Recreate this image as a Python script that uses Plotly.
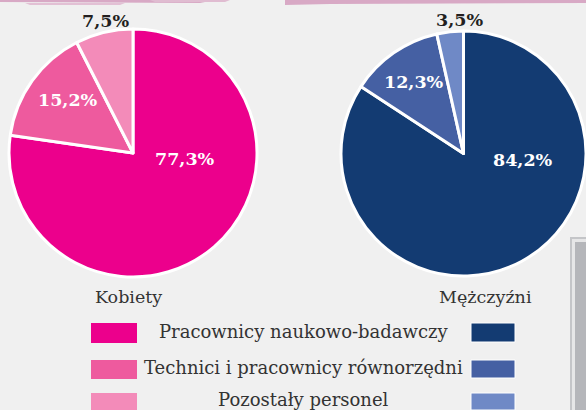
import plotly.graph_objects as go

W, H = 586, 410

categories = ["Pracownicy naukowo-badawczy", "Technici i pracownicy równorzędni", "Pozostały personel"]
groups = ["Kobiety", "Mężczyźni"]
women_values = [77.3, 15.2, 7.5]
men_values = [84.2, 12.3, 3.5]
women_labels = ["77,3%", "15,2%", "7,5%"]
men_labels = ["84,2%", "12,3%", "3,5%"]
women_colors = ["#EC008C", "#EE5A9E", "#F38BB9"]
men_colors = ["#133B72", "#4560A3", "#6F89C6"]

BG = "#F0F0F0"
TXT = "#333333"
SERIF = "DejaVu Serif"


def px(x):
    return x / W


def py(y):
    return 1 - y / H


fig = go.Figure()

fig.add_trace(go.Pie(
    values=women_values, labels=categories, sort=False, direction="clockwise", rotation=0,
    marker=dict(colors=women_colors, line=dict(color="white", width=3)),
    textinfo="none", hoverinfo="skip", showlegend=False,
    domain=dict(x=[px(9), px(257)], y=[py(277), py(29)]),
))
fig.add_trace(go.Pie(
    values=men_values, labels=categories, sort=False, direction="clockwise", rotation=0,
    marker=dict(colors=men_colors, line=dict(color="white", width=3)),
    textinfo="none", hoverinfo="skip", showlegend=False,
    domain=dict(x=[px(341), 1.0], y=[py(277), py(30)]),
))

annotations = []
# percentage labels (text from data arrays)
label_pos_w = [(184.5, 159, "white"), (67.5, 100, "white"), (105, 21, "#231F20")]
label_pos_m = [(523, 159.5, "white"), (413.5, 82, "white"), (459, 20, "#231F20")]
for labels, poss in ((women_labels, label_pos_w), (men_labels, label_pos_m)):
    for t, (x, y, c) in zip(labels, poss):
        annotations.append(dict(
            x=px(x), y=py(y), xref="paper", yref="paper", text="<b>" + t + "</b>",
            showarrow=False, xanchor="center", yanchor="middle",
            font=dict(family=SERIF, size=17.5, color=c),
        ))

# group titles
for g, x in zip(groups, [128, 485]):
    annotations.append(dict(
        x=px(x), y=py(297), xref="paper", yref="paper", text=g, showarrow=False,
        xanchor="center", yanchor="middle", font=dict(family=SERIF, size=17.5, color=TXT),
    ))

# custom legend
shapes = []
rows = [(323, 343, 331), (360, 379, 367), (393, 411, 399)]
for i, cat in enumerate(categories):
    y0, y1, yc = rows[i]
    shapes.append(dict(type="rect", xref="paper", yref="paper",
                       x0=px(91), x1=px(137), y0=py(y1), y1=py(y0),
                       fillcolor=women_colors[i], line=dict(width=0)))
    shapes.append(dict(type="rect", xref="paper", yref="paper",
                       x0=px(471), x1=px(515), y0=py(y1 - 1), y1=py(y0),
                       fillcolor=men_colors[i], line=dict(color="white", width=1)))
    annotations.append(dict(
        x=px(304), y=py(yc), xref="paper", yref="paper", text=cat, showarrow=False,
        xanchor="center", yanchor="middle", font=dict(family=SERIF, size=18, color=TXT),
    ))

# decorative top brush strokes
shapes.append(dict(type="path", xref="paper", yref="paper",
                   path=f"M {px(0)},{py(0)} L {px(215)},{py(0)} L {px(200)},{py(3)} L {px(0)},{py(2)} Z",
                   fillcolor="#D8A9C5", line=dict(width=0)))
shapes.append(dict(type="path", xref="paper", yref="paper",
                   path=f"M {px(25)},{py(3)} L {px(125)},{py(3)} L {px(120)},{py(5)} L {px(30)},{py(5)} Z",
                   fillcolor="#E2C0D4", line=dict(width=0)))
shapes.append(dict(type="path", xref="paper", yref="paper",
                   path=f"M {px(150)},{py(0)} L {px(230)},{py(0)} L {px(225)},{py(2)} L {px(155)},{py(2)} Z",
                   fillcolor="#E0BCD1", line=dict(width=0)))
shapes.append(dict(type="path", xref="paper", yref="paper",
                   path=f"M {px(285)},{py(0)} L {px(586)},{py(0)} L {px(586)},{py(3)} L {px(330)},{py(4)} L {px(285)},{py(5)} Z",
                   fillcolor="#D8A9C5", line=dict(width=0)))

# decorative grey bracket at right edge
shapes.append(dict(type="rect", xref="paper", yref="paper",
                   x0=px(570), x1=1.0, y0=0, y1=py(237),
                   fillcolor="#C4C5C8", line=dict(width=0)))
shapes.append(dict(type="rect", xref="paper", yref="paper",
                   x0=px(572), x1=1.0, y0=0, y1=py(239),
                   fillcolor="#E6E6E7", line=dict(width=0)))
shapes.append(dict(type="rect", xref="paper", yref="paper",
                   x0=px(575), x1=1.0, y0=0, y1=py(242),
                   fillcolor="#B5B6BA", line=dict(width=0)))

fig.update_layout(
    width=W, height=H,
    margin=dict(l=0, r=0, t=0, b=0),
    paper_bgcolor=BG, plot_bgcolor=BG,
    annotations=annotations, shapes=shapes,
    showlegend=False,
)

fig.write_html(
    "out.html",
    config={"displayModeBar": False},
    post_script="document.body.style.margin='0';document.body.style.overflow='hidden';",
)
